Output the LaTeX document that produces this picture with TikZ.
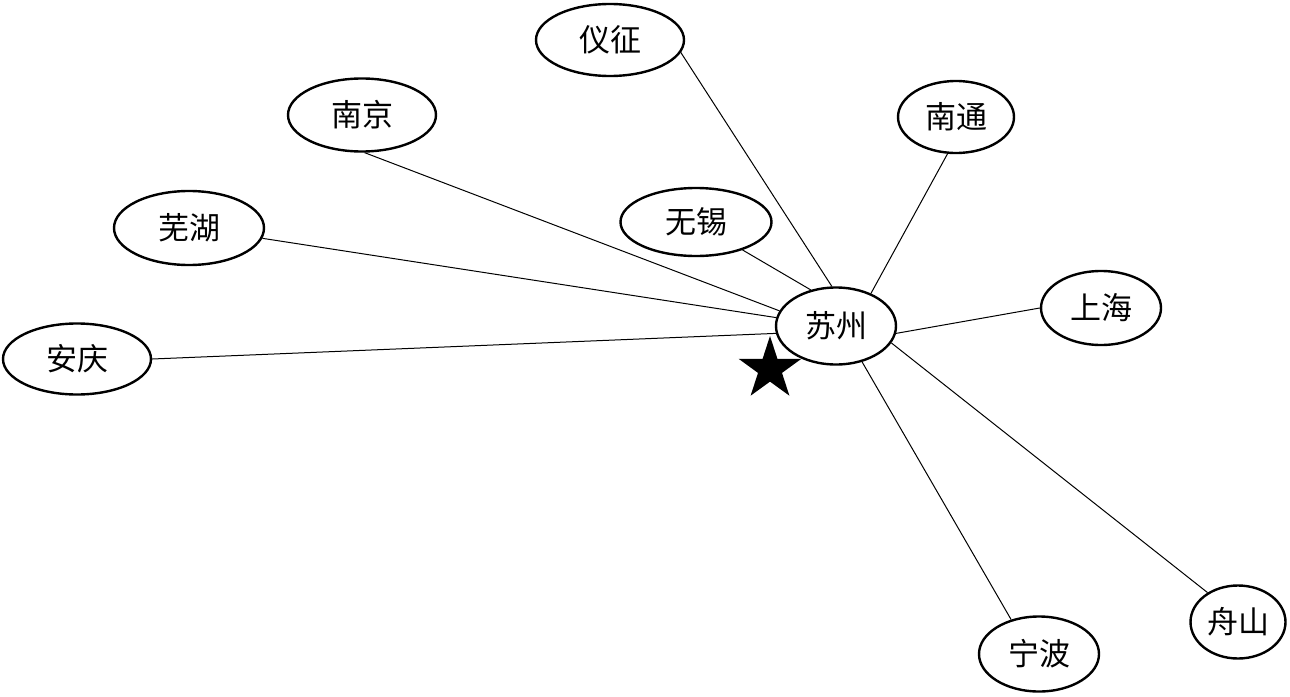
\documentclass[tikz,border=0pt]{standalone}
\usepackage{fontspec}
\newfontfamily\cjk{Noto Sans CJK SC}
\usetikzlibrary{shapes.geometric}
\begin{document}
\begin{tikzpicture}[x=1pt,y=-1pt,
  city/.style={ellipse,draw,line width=2.4pt,inner sep=0pt,font=\cjk\fontsize{31}{36}\selectfont},
  link/.style={line width=1pt}]
\useasboundingbox (0,0) rectangle (1290,696);
\node[city,minimum width=148pt,minimum height=72pt] (yz) at (610,40) {仪征};
\node[city,minimum width=148pt,minimum height=73pt] (nj) at (362,115) {南京};
\node[city,minimum width=116pt,minimum height=72pt] (nt) at (956,117) {南通};
\node[city,minimum width=150pt,minimum height=74pt] (wh) at (189,228) {芜湖};
\node[city,minimum width=151pt,minimum height=68pt] (wx) at (696,222) {无锡};
\node[city,minimum width=120pt,minimum height=77pt] (sz) at (836,326) {苏州};
\node[city,minimum width=120pt,minimum height=74pt] (sh) at (1101,308) {上海};
\node[city,minimum width=148pt,minimum height=71pt] (aq) at (77,359) {安庆};
\node[city,minimum width=120pt,minimum height=75pt] (nb) at (1039,654) {宁波};
\node[city,minimum width=95pt,minimum height=73pt] (zs) at (1238,622) {舟山};
\node[star,star points=5,star point ratio=2.618,fill=black,minimum size=66pt,inner sep=0pt] (st) at (770,369) {};
\draw[link] (yz.-10) -- (sz.96);
\draw[link] (nj.-86) -- (sz.165);
\draw[link] (nt.-103) -- (sz.43);
\draw[link] (wh.-8) -- (sz.172.5);
\draw[link] (wx.-31) -- (sz.125);
\draw[link] (aq.0) -- (sz.187.5);
\draw[link] (sh.180) -- (sz.-7.5);
\draw[link] (zs.136) -- (sz.-17);
\draw[link] (nb.129) -- (sz.-54);
\end{tikzpicture}
\end{document}
